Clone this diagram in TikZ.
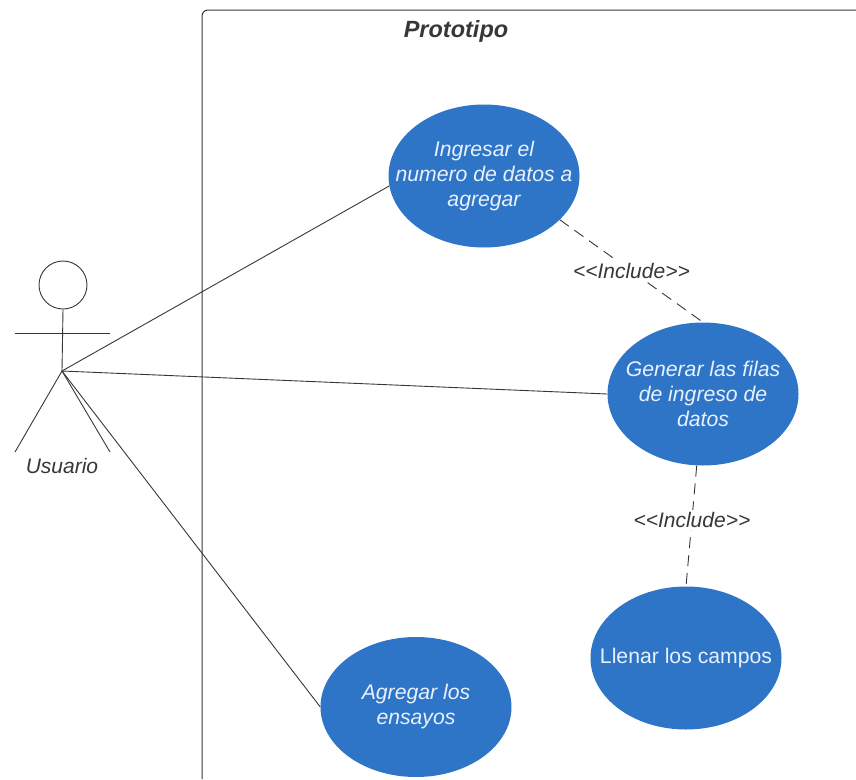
\documentclass[tikz,border=0pt]{standalone}
\usepackage{fontspec}
\setmainfont{Liberation Sans}
\usetikzlibrary{shapes.geometric}
\definecolor{ucblue}{RGB}{46,117,200}
\definecolor{uctext}{RGB}{232,241,252}
\definecolor{umlgray}{RGB}{55,55,55}

\begin{document}
\begin{tikzpicture}[
  x=1pt, y=-1pt,
  usecase/.style={ellipse, fill=ucblue, text=uctext, align=center, inner xsep=-26pt, inner ysep=0pt, minimum width=191pt, minimum height=143pt, font=\fontsize{21.2}{25}\selectfont\itshape},
  assoc/.style={draw=umlgray, line width=0.9pt},
  incl/.style={draw=umlgray, line width=0.9pt, dash pattern=on 11pt off 7pt},
  stereo/.style={fill=white, inner sep=2pt, text=umlgray, font=\fontsize{21}{25}\selectfont\itshape},
  limb/.style={draw=umlgray, line width=0.9pt},
  frame/.style={draw=umlgray, line width=1pt, rounded corners=6pt}
]
\useasboundingbox (0,0) rectangle (856,779);

% system boundary
\coordinate (boxbl) at (202,779);
\coordinate (boxtr) at (856,10);
\draw[frame] (boxbl) |- (boxtr);
\node[text=umlgray, font=\fontsize{23.5}{28}\selectfont\bfseries\itshape] (title) at (456,31) {Prototipo};

% actor
\node[draw=umlgray, line width=0.9pt, circle, minimum size=48pt, inner sep=0pt] (head) at (63,285) {};
\coordinate (hip) at (62,371);
\coordinate (lhand) at (15,333);
\coordinate (rhand) at (110,333);
\coordinate (lfoot) at (15,452);
\coordinate (rfoot) at (110,452);
\draw[limb] (head.south) -- (hip);
\draw[limb] (lhand) -- (rhand);
\draw[limb] (lfoot) -- (hip) -- (rfoot);
\node[text=umlgray, font=\fontsize{21}{25}\selectfont\itshape] (actor) at (62,466) {Usuario};

% use cases
\node[usecase] (ingresar) at (484,176) {Ingresar el\\numero de datos a\\agregar};
\node[usecase] (generar) at (703,394) {Generar las filas\\de ingreso de\\datos};
\node[usecase, font=\fontsize{21.2}{25}\selectfont\upshape] (llenar) at (686,658) {Llenar los campos};
\node[usecase, minimum height=140pt] (agregar) at (416,707) {Agregar los\\ensayos};

% associations
\draw[assoc] (hip) -- (ingresar.186);
\draw[assoc] (hip) -- (generar.west);
\draw[assoc] (hip) -- (agregar.west);

% includes
\draw[incl] (ingresar.-30) -- node[stereo, pos=0.5] (inc1) {{<}{<}Include{>}{>}} (generar.north);
\draw[incl] (generar.-95) -- node[stereo, pos=0.45] (inc2) {{<}{<}Include{>}{>}} (llenar.north);
\end{tikzpicture}
\end{document}
